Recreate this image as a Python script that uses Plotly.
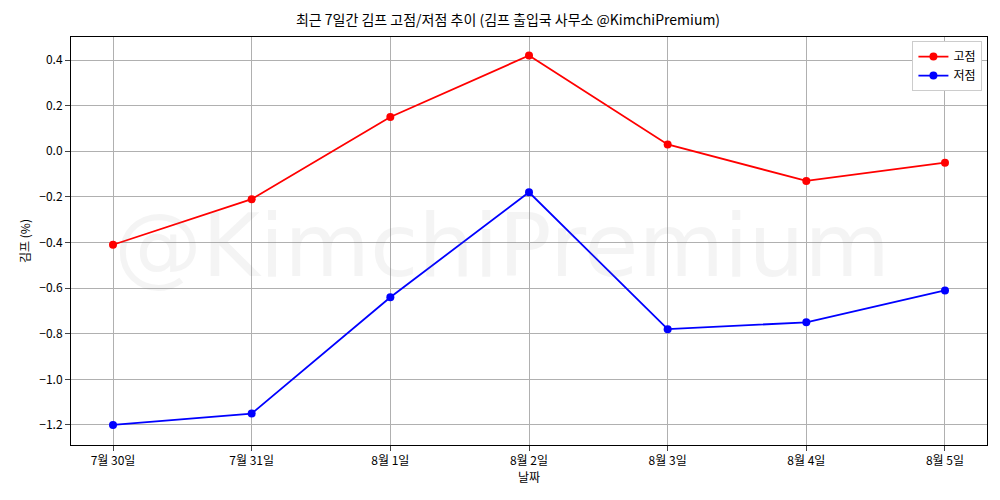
import plotly.graph_objects as go

dates = ["7월 30일", "7월 31일", "8월 1일", "8월 2일", "8월 3일", "8월 4일", "8월 5일"]
high = [-0.41, -0.21, 0.15, 0.42, 0.03, -0.13, -0.05]
low = [-1.20, -1.15, -0.64, -0.18, -0.78, -0.75, -0.61]
yticks = [0.4, 0.2, 0.0, -0.2, -0.4, -0.6, -0.8, -1.0, -1.2]

font = "Noto Sans CJK KR"
fig = go.Figure()
fig.add_trace(go.Scatter(x=list(range(len(dates))), y=high, name="고점", mode="lines+markers",
                         line=dict(color="red", width=1.8), marker=dict(size=8, color="red")))
fig.add_trace(go.Scatter(x=list(range(len(dates))), y=low, name="저점", mode="lines+markers",
                         line=dict(color="blue", width=1.8), marker=dict(size=8, color="blue")))
fig.add_annotation(text="@KimchiPremium", x=0.47, y=0.49, xref="paper", yref="paper", showarrow=False,
                   font=dict(size=88, color="rgba(128,128,128,0.09)", family="DejaVu Sans"))
fig.update_layout(
    width=1000, height=500, plot_bgcolor="white", paper_bgcolor="white",
    margin=dict(l=63, r=21, t=29, b=63, autoexpand=False),
    font=dict(family=font, size=12, color="black"),
    title=dict(text="최근 7일간 김프 고점/저점 추이 (김프 출입국 사무소 @KimchiPremium)", x=0.5, xanchor="center",
               yref="container", y=0.975, yanchor="middle", font=dict(size=14)),
    legend=dict(x=0.995, y=0.99, xanchor="right", yanchor="top", bordercolor="#cccccc", borderwidth=1,
                bgcolor="white"),
)
fig.update_xaxes(range=[-0.303, 6.303], tickvals=list(range(len(dates))), ticktext=dates, automargin=False,
                 showgrid=True, gridcolor="#b0b0b0", showline=True, linecolor="black", mirror=True,
                 ticks="outside", title=dict(text="날짜", standoff=4, font=dict(size=12)), zeroline=False)
fig.update_yaxes(range=[-1.288, 0.501], tickvals=yticks, tickformat=".1f", automargin=False,
                 showgrid=True, gridcolor="#b0b0b0", showline=True, linecolor="black", mirror=True,
                 ticks="outside", title=dict(text="김프 (%)", standoff=6, font=dict(size=12)), zeroline=False)
fig.write_html("out.html")
